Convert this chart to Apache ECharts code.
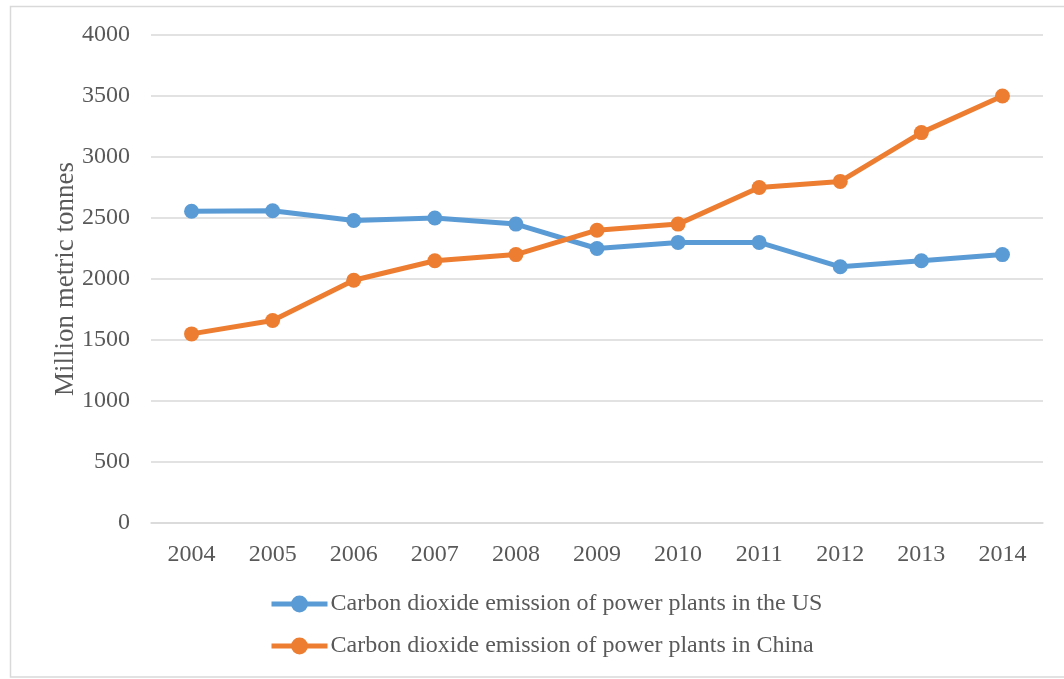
<!DOCTYPE html>
<html>
<head>
<meta charset="utf-8">
<script src="https://cdn.jsdelivr.net/npm/echarts@6/dist/echarts.min.js"></script>
<style>
  html, body { margin: 0; padding: 0; background: #ffffff; }
  #chart { width: 1064px; height: 679px; }
</style>
</head>
<body>
<div id="chart"></div>
<script>
// Years on the category axis
const years = ['2004', '2005', '2006', '2007', '2008', '2009', '2010', '2011', '2012', '2013', '2014'];
// Carbon dioxide emission of power plants, million metric tonnes
const usEmission = [2555, 2560, 2480, 2500, 2450, 2250, 2300, 2300, 2100, 2150, 2200];
const chinaEmission = [1550, 1660, 1990, 2150, 2200, 2400, 2450, 2750, 2800, 3200, 3500];
const seriesNames = [
  'Carbon dioxide emission of power plants in the US',
  'Carbon dioxide emission of power plants in China'
];
const yAxisName = 'Million metric tonnes';

const font = 'Liberation Serif, Times New Roman, serif';
const textColor = '#595959';

const chart = echarts.init(document.getElementById('chart'), null, { renderer: 'canvas' });

function lineSeries(name, data, color) {
  return {
    name: name,
    type: 'line',
    data: data,
    symbol: 'circle',
    symbolSize: 15,
    lineStyle: { color: color, width: 5 },
    itemStyle: { color: color },
    emphasis: { disabled: true },
    animation: false
  };
}

chart.setOption({
  backgroundColor: '#ffffff',
  animation: false,
  graphic: [{
    type: 'rect',
    shape: { x: 10.5, y: 6.5, width: 1070, height: 670.5 },
    style: { fill: 'none', stroke: '#d9d9d9', lineWidth: 1.5 },
    silent: true,
    z: -1
  }],
  grid: { left: 151, right: 21, top: 35, bottom: 156 },
  legend: {
    orient: 'vertical',
    left: 269,
    top: 592,
    padding: 0,
    itemGap: 18,
    itemWidth: 56,
    itemHeight: 21,
    lineStyle: { width: 5 },
    itemStyle: { borderWidth: 0 },
    textStyle: { fontFamily: font, fontSize: 24, color: textColor, padding: [0, 0, 0, -2] },
    data: seriesNames
  },
  xAxis: {
    type: 'category',
    data: years,
    boundaryGap: true,
    axisLine: { show: true, lineStyle: { color: '#d9d9d9', width: 1.5 } },
    axisTick: { show: false },
    axisLabel: { fontFamily: font, fontSize: 24, color: textColor, margin: 20 }
  },
  yAxis: {
    type: 'value',
    min: 0,
    max: 4000,
    interval: 500,
    name: yAxisName,
    nameLocation: 'middle',
    nameGap: 72,
    nameMoveOverlap: false,
    nameRotate: 90,
    nameTextStyle: { fontFamily: font, fontSize: 27, color: textColor },
    axisLine: { show: false },
    axisTick: { show: false },
    splitLine: { lineStyle: { color: '#d9d9d9', width: 1.5 } },
    axisLabel: {
      fontFamily: font, fontSize: 24, color: textColor, margin: 21,
      formatter: function (v) { return String(v); }
    }
  },
  series: [
    lineSeries(seriesNames[0], usEmission, '#5b9bd5'),
    lineSeries(seriesNames[1], chinaEmission, '#ed7d31')
  ]
});
</script>
</body>
</html>
